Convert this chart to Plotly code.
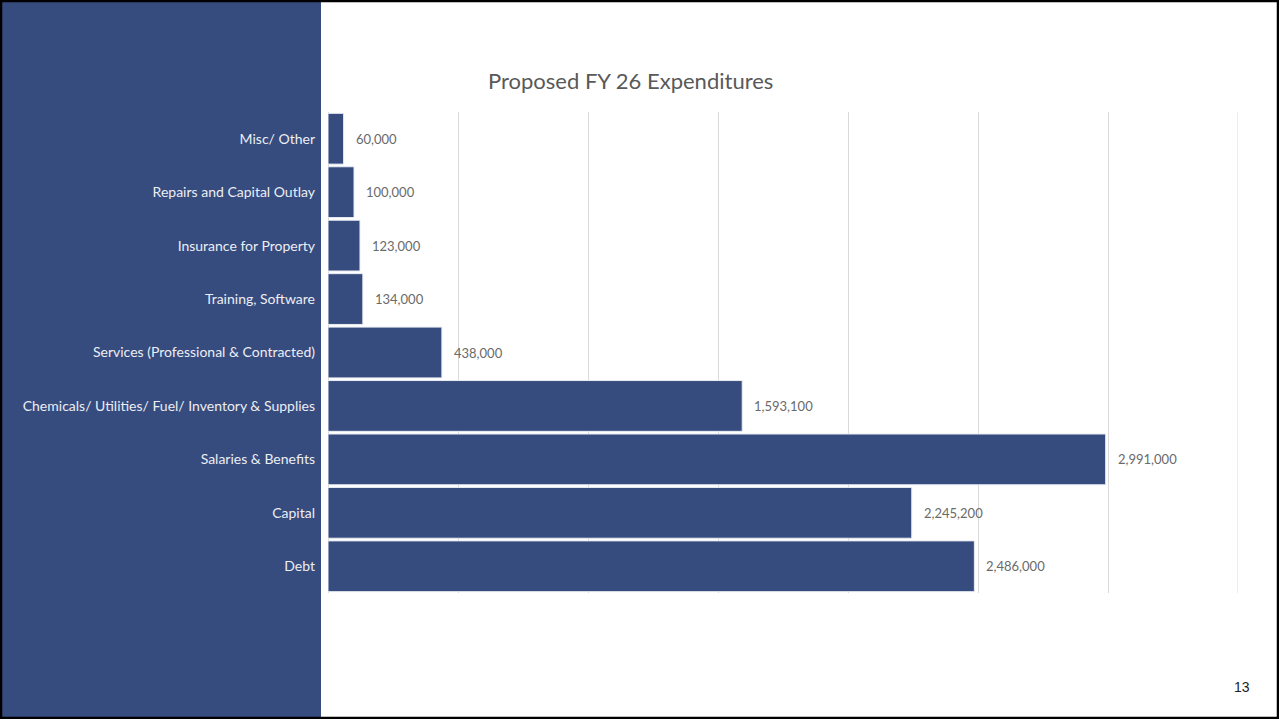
import plotly.graph_objects as go

# Expenditure categories, listed top to bottom as they appear on the slide
categories = [
    "Misc/ Other",
    "Repairs and Capital Outlay",
    "Insurance for Property",
    "Training, Software",
    "Services (Professional & Contracted)",
    "Chemicals/ Utilities/ Fuel/ Inventory & Supplies",
    "Salaries & Benefits",
    "Capital",
    "Debt",
]
amounts = [60000, 100000, 123000, 134000, 438000, 1593100, 2991000, 2245200, 2486000]

X_MAX = 3500000
X_STEP = 500000

W, H = 1279, 719
L, R, T, B = 328, 41, 112, 126
plot_w = W - L - R
plot_h = H - T - B

NAVY = "#364B7E"
FONT = "Lato, Carlito, Calibri, sans-serif"


def px_x(p):
    """Convert a page x pixel to paper units."""
    return (p - L) / plot_w


def px_y(p):
    """Convert a page y pixel to paper units."""
    return (H - B - p) / plot_h


fig = go.Figure(
    go.Bar(
        x=amounts,
        y=categories,
        orientation="h",
        marker=dict(color=NAVY, line=dict(color="#e8ebf2", width=1)),
        hoverinfo="x+y",
    )
)

# Value labels to the right of each bar
for cat, val in zip(categories, amounts):
    fig.add_annotation(
        x=val, y=cat, xref="x", yref="y",
        text=f"{val:,}", showarrow=False,
        xanchor="left", xshift=10,
        font=dict(family=FONT, size=13, color="#6a6a6a"),
    )

# Gridline at the right end of the value axis
fig.add_shape(
    type="line", xref="x", yref="paper",
    x0=X_MAX, x1=X_MAX, y0=0, y1=1,
    line=dict(color="#d9d9d9", width=1), layer="below",
)

# Navy side panel and slide frame
fig.add_shape(
    type="rect", xref="paper", yref="paper",
    x0=px_x(0), x1=px_x(321), y0=px_y(H), y1=px_y(0),
    fillcolor=NAVY, line=dict(width=0), layer="below",
)
fig.add_shape(
    type="rect", xref="paper", yref="paper",
    x0=px_x(1), x1=px_x(W - 1), y0=px_y(H - 1), y1=px_y(1),
    fillcolor="rgba(0,0,0,0)", line=dict(color="#000000", width=2.5), layer="above",
)

# Slide title and page number
fig.add_annotation(
    x=px_x(630), y=px_y(81), xref="paper", yref="paper",
    text="Proposed FY 26 Expenditures", showarrow=False,
    xanchor="center", yanchor="middle",
    font=dict(family=FONT, size=22, color="#595959"),
)
fig.add_annotation(
    x=px_x(1242), y=px_y(687), xref="paper", yref="paper",
    text="13", showarrow=False, xanchor="center", yanchor="middle",
    font=dict(family="Liberation Sans, Arial, sans-serif", size=14, color="#222222"),
)

fig.update_layout(
    width=W, height=H,
    margin=dict(l=L, r=R, t=T, b=B, autoexpand=False),
    paper_bgcolor="white", plot_bgcolor="rgba(0,0,0,0)",
    bargap=0.05, showlegend=False,
    xaxis=dict(
        range=[0, X_MAX], dtick=X_STEP, showgrid=True,
        gridcolor="#d9d9d9", gridwidth=1, showticklabels=False,
        zeroline=True, zerolinecolor="#d9d9d9", zerolinewidth=1,
        fixedrange=True,
    ),
    yaxis=dict(
        autorange="reversed", showgrid=False, zeroline=False,
        ticks="", ticklabelstandoff=12,
        tickfont=dict(family=FONT, size=14, color="#eceef4"),
        fixedrange=True,
    ),
)

fig.write_html("out.html")
